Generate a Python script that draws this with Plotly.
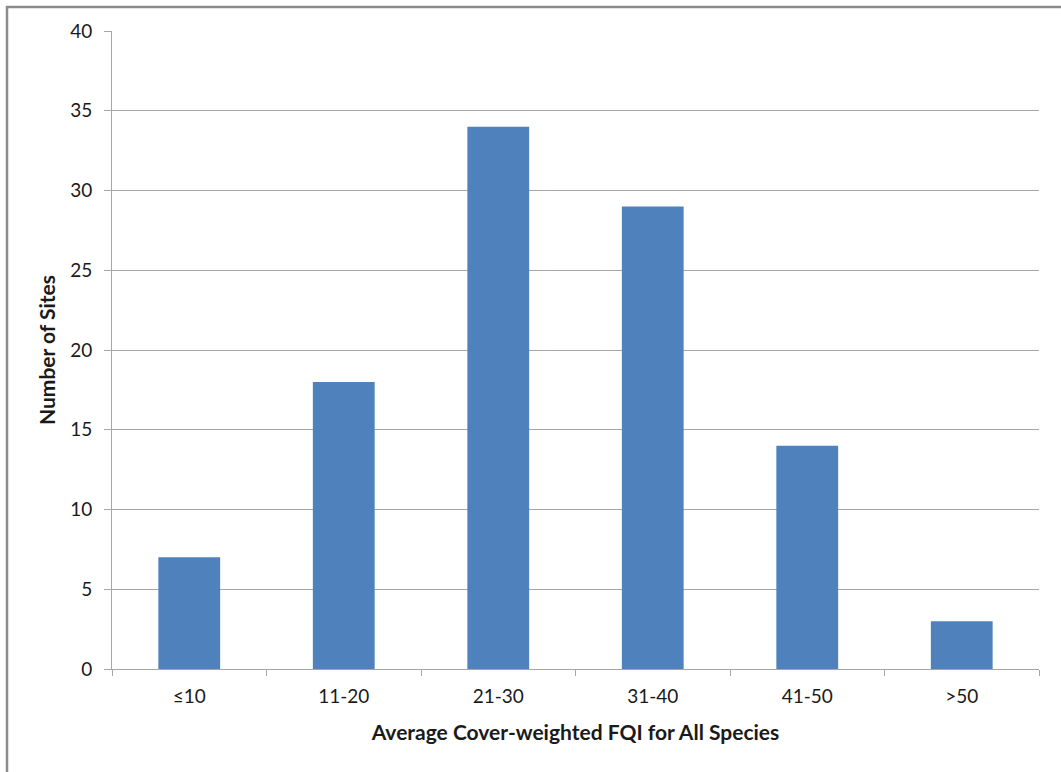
import plotly.graph_objects as go

categories = ["≤10", "11-20", "21-30", "31-40", "41-50", ">50"]
sites = [7, 18, 34, 29, 14, 3]
y_ticks = [0, 5, 10, 15, 20, 25, 30, 35, 40]

fig = go.Figure(go.Bar(x=categories, y=sites, marker=dict(color="#4F81BD", line=dict(width=0))))

W, H = 1061, 772
L, R, T, B = 112, 22, 31, 103
fig.update_layout(
    width=W, height=H,
    margin=dict(l=L, r=R, t=T, b=B),
    paper_bgcolor="white", plot_bgcolor="white",
    bargap=0.6,
    showlegend=False,
    font=dict(family="Lato, Liberation Sans, sans-serif", size=19, color="#1a1a1a"),
    xaxis=dict(
        showline=True, linecolor="#a6a6a6", linewidth=1,
        ticks="outside", tickson="boundaries", ticklen=6, tickcolor="#a6a6a6",
        ticklabelstandoff=10,
        showgrid=False,
        title=dict(text="<b>Average Cover-weighted FQI for All Species</b>", font=dict(size=21), standoff=19),
    ),
    yaxis=dict(
        range=[0, 40], tickvals=y_ticks,
        showline=True, linecolor="#a6a6a6", linewidth=1,
        ticks="outside", ticklen=7, tickcolor="#a6a6a6",
        ticklabelstandoff=8,
        showgrid=True, gridcolor="#a6a6a6", gridwidth=1,
        zeroline=False,
        title=dict(text="<b>Number of Sites</b>", font=dict(size=21), standoff=8),
    ),
    shapes=[dict(type="rect", xref="paper", yref="paper",
                 x0=(7 - L) / (W - L - R), x1=(W + 10 - L) / (W - L - R),
                 y0=-(H + 10 - (H - B)) / (H - T - B), y1=1 + (T - 7) / (H - T - B),
                 line=dict(color="#8c8c8c", width=2.5), fillcolor="rgba(0,0,0,0)", layer="below")],
)

fig.write_html("out.html", config={"displayModeBar": False},
               post_script="document.body.style.margin='0';document.body.style.overflow='hidden';")
